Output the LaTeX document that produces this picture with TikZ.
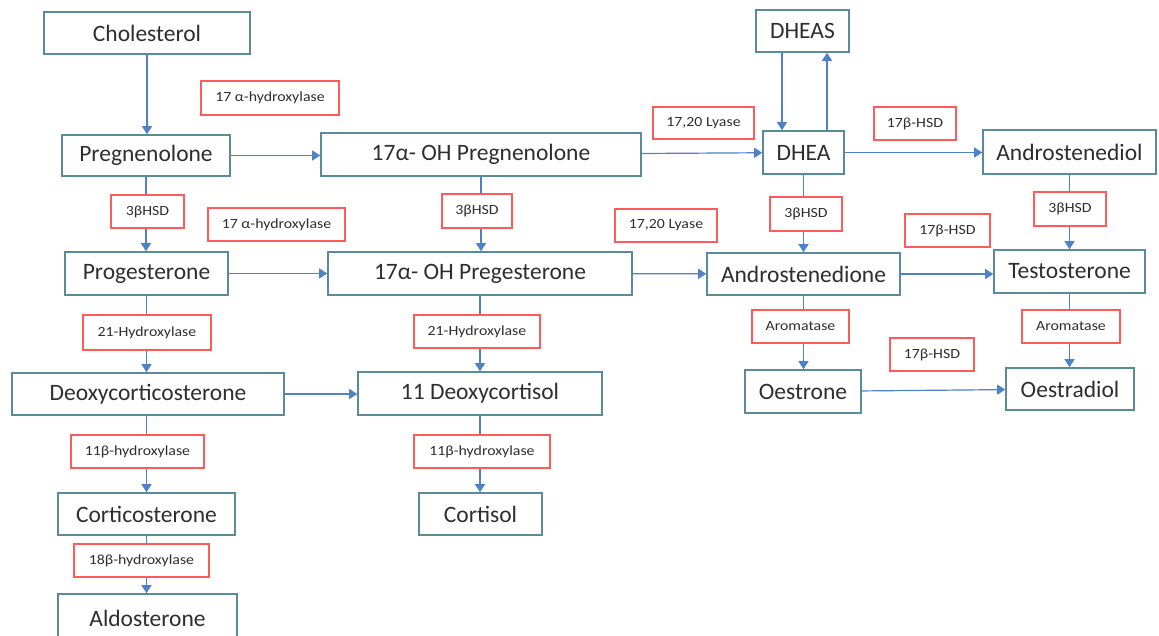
\documentclass[tikz,border=0pt]{standalone}
\usepackage{fontspec}
\setmainfont{Carlito}
\newfontfamily\enzfont[FakeStretch=1.13]{Carlito}
\usetikzlibrary{arrows.meta}
\definecolor{boxc}{HTML}{5A8B9B}
\definecolor{arrc}{HTML}{4F81C7}
\definecolor{redc}{HTML}{FF5B5B}
\definecolor{txtc}{HTML}{2E2E2E}
\tikzset{
 mbox/.style={draw=boxc, line width=1.6pt, fill=white, text=txtc, font=\fontsize{23.5}{27}\selectfont, inner sep=0pt},
 enz/.style={draw=redc, line width=1.4pt, fill=white, text=txtc, font=\enzfont\fontsize{14}{16}\selectfont, inner sep=0pt},
 arr/.style={draw=arrc, line width=1.2pt, -{Triangle[width=10pt,length=8pt]}},
}
\newcommand\mynode[7]{\node[#1, minimum width={(#5)-(#4)}, minimum height={(#7)-(#6)}] (#2) at ({((#4)+(#5))/2},{((#6)+(#7))/2}) {#3};}
\begin{document}
\begin{tikzpicture}[x=1pt,y=-1pt]
\useasboundingbox (0,0) rectangle (1159,636);
\clip (0,0) rectangle (1159,636);
\fill[white] (0,0) rectangle (1159,636);
% main boxes
\mynode{mbox}{chol}{Cholesterol}{44}{250}{12}{54}
\mynode{mbox}{preg}{Pregnenolone}{62}{230}{135}{176}
\mynode{mbox}{ohpreg}{17α- OH Pregnenolone}{321}{641}{133}{176}
\mynode{mbox}{dheas}{DHEAS}{756}{849}{10}{52}
\mynode{mbox}{dhea}{DHEA}{763}{844}{131}{174}
\mynode{mbox}{adiol}{Androstenediol}{983}{1156}{130}{174}
\mynode{mbox}{prog}{Progesterone}{65}{228}{252}{295}
\mynode{mbox}{ohprog}{17α- OH Pregesterone}{328}{632}{252}{295}
\mynode{mbox}{adione}{Androstenedione}{707}{900}{253}{295}
\mynode{mbox}{testo}{Testosterone}{994}{1145}{250}{293}
\mynode{mbox}{doc}{Deoxycorticosterone}{12}{284}{373}{415}
\mynode{mbox}{dcort}{11 Deoxycortisol}{358}{602}{372}{415}
\mynode{mbox}{oestrone}{Oestrone}{745}{861}{370}{413}
\mynode{mbox}{oestradiol}{Oestradiol}{1006}{1134}{368}{410}
\mynode{mbox}{cortico}{Corticosterone}{58}{235}{493}{535}
\mynode{mbox}{cortisol}{Cortisol}{419}{542}{493}{535}
\mynode{mbox}{aldo}{Aldosterone}{58}{237}{594}{642}
% connectors
\draw[arr] (chol) -- (chol |- preg.north);
\draw[arr] (preg) -- (preg |- prog.north);
\draw[arr] (prog) -- (prog |- doc.north);
\draw[arr] (cortico |- doc.south) -- (cortico.north);
\draw[arr] (cortico) -- (cortico |- aldo.north);
\draw[arr] (ohpreg) -- (ohpreg |- ohprog.north);
\draw[arr] (ohprog) -- (ohprog |- dcort.north);
\draw[arr] (dcort) -- (dcort |- cortisol.north);
\draw[arr] (dhea) -- (dhea |- adione.north);
\draw[arr] (adione) -- (adione |- oestrone.north);
\draw[arr] (adiol) -- (adiol |- testo.north);
\draw[arr] (testo) -- (testo |- oestradiol.north);
\draw[arr] (preg) -- (preg -| ohpreg.west);
\draw[arr] (ohpreg) -- (dhea);
\draw[arr] (dhea) -- (dhea -| adiol.west);
\draw[arr] (prog) -- (prog -| ohprog.west);
\draw[arr] (ohprog) -- (adione);
\draw[arr] (adione) -- (adione -| testo.west);
\draw[arr] (doc) -- (doc -| dcort.west);
\draw[arr] (oestrone) -- (oestradiol);
\draw[arr] ([xshift=-20.5pt]dheas.south) -- ([xshift=-20.5pt]dheas.south |- dhea.north);
\draw[arr] ([xshift=23.5pt]dhea.north) -- ([xshift=23.5pt]dhea.north |- dheas.south);
% enzyme labels
\mynode{enz}{e1}{17 α-hydroxylase}{201}{339}{81}{115}
\mynode{enz}{e2}{3βHSD}{111}{184}{195}{228}
\mynode{enz}{e3}{17 α-hydroxylase}{208}{345}{208}{241}
\mynode{enz}{e4}{3βHSD}{442}{512}{194}{228}
\mynode{enz}{e5}{17,20 Lyase}{653}{754}{107}{139}
\mynode{enz}{e6}{17β-HSD}{874}{956}{107}{140}
\mynode{enz}{e7}{3βHSD}{770}{842}{197}{231}
\mynode{enz}{e8}{3βHSD}{1034}{1106}{192}{226}
\mynode{enz}{e9}{17,20 Lyase}{615}{717}{209}{242}
\mynode{enz}{e10}{17β-HSD}{905}{990}{214}{247}
\mynode{enz}{e11}{21-Hydroxylase}{83}{211}{315}{350}
\mynode{enz}{e12}{21-Hydroxylase}{414}{540}{315}{348}
\mynode{enz}{e13}{Aromatase}{752}{849}{310}{343}
\mynode{enz}{e14}{Aromatase}{1022}{1120}{310}{343}
\mynode{enz}{e15}{17β-HSD}{890}{974}{338}{371}
\mynode{enz}{e16}{11β-hydroxylase}{71}{204}{435}{468}
\mynode{enz}{e17}{11β-hydroxylase}{414}{550}{435}{468}
\mynode{enz}{e18}{18β-hydroxylase}{74}{209}{544}{577}
\end{tikzpicture}
\end{document}
